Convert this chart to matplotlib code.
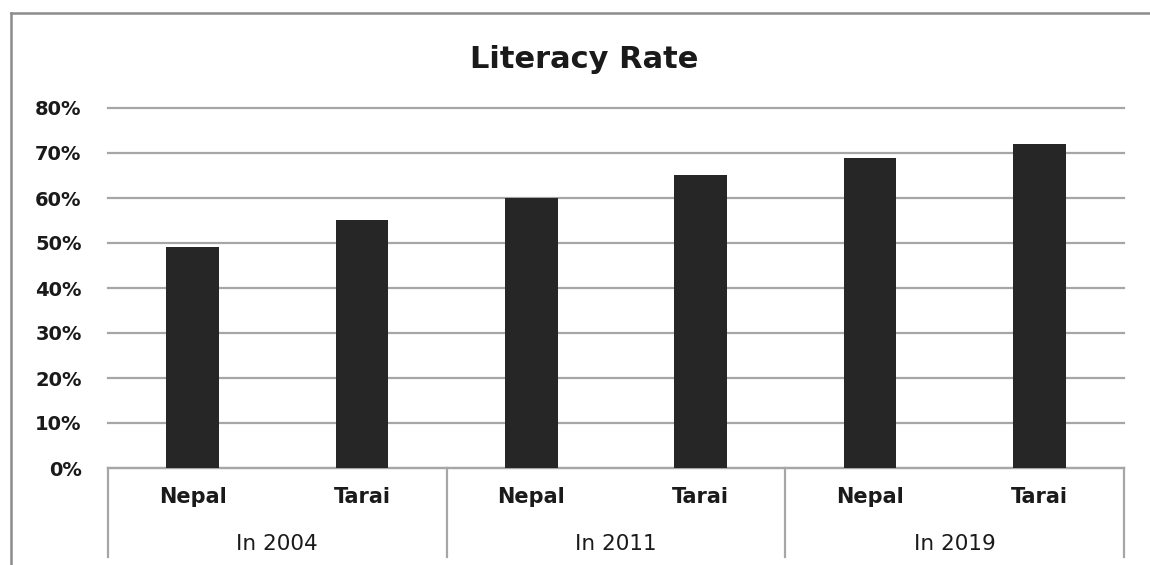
import matplotlib
matplotlib.use('Agg')
import matplotlib.pyplot as plt
from matplotlib.lines import Line2D
from matplotlib.ticker import PercentFormatter

# Datos del grafico
anios = ['In 2004', 'In 2011', 'In 2019']
regiones = ['Nepal', 'Tarai']
tasas = [0.49, 0.55, 0.60, 0.65, 0.69, 0.72]

plt.rcParams['font.family'] = ['DejaVu Sans']

fig = plt.figure(figsize=(11.5, 5.65), dpi=100)
ax = fig.add_axes([108 / 1150, 97 / 565, 1016 / 1150, 360 / 565])

etiquetas = [r for _ in anios for r in regiones]
x = list(range(len(etiquetas)))
ax.bar(x, tasas, width=0.31, color='#262626', zorder=3)

ax.set_xlim(-0.5, len(etiquetas) - 0.5)
ax.set_ylim(0, 0.8)
ax.set_yticks([i / 10 for i in range(9)])
ax.yaxis.set_major_formatter(PercentFormatter(1.0, decimals=0))
ax.tick_params(axis='y', length=0, pad=19, labelsize=14, labelcolor='#1a1a1a')
for lbl in ax.get_yticklabels():
    lbl.set_fontweight('bold')
ax.tick_params(axis='x', length=0, labelbottom=False)
ax.grid(axis='y', color='#a6a6a6', linewidth=1.6, zorder=0)
for linea in ax.get_ygridlines():
    linea.set_clip_on(False)

for lado in ['top', 'right', 'left']:
    ax.spines[lado].set_visible(False)
ax.spines['bottom'].set_color('#a6a6a6')
ax.spines['bottom'].set_linewidth(1.6)

# Etiquetas de categoria (dos niveles)
trans = ax.get_xaxis_transform()
for i, et in enumerate(etiquetas):
    ax.text(i, -0.08, et, transform=trans, ha='center', va='center',
            fontsize=15, fontweight='bold', color='#1a1a1a')
for j, anio in enumerate(anios):
    ax.text(2 * j + 0.5, -0.212, anio, transform=trans, ha='center', va='center',
            fontsize=15.5, color='#1a1a1a')
for j in range(len(anios) + 1):
    ax.plot([2 * j - 0.5, 2 * j - 0.5], [0, -0.247], transform=trans,
            color='#a6a6a6', linewidth=1.6, clip_on=False)

fig.text(584 / 1150, 1 - 60 / 565, 'Literacy Rate', ha='center', va='center',
         fontsize=22, fontweight='bold', color='#1a1a1a')

# Borde del grafico
fig.add_artist(Line2D([11 / 1150, 11 / 1150], [0, 1 - 13 / 565],
                      transform=fig.transFigure, color='#8c8c8c', linewidth=1.8))
fig.add_artist(Line2D([11 / 1150, 1], [1 - 13 / 565, 1 - 13 / 565],
                      transform=fig.transFigure, color='#8c8c8c', linewidth=1.8))

fig.savefig('out.png', dpi=100)
